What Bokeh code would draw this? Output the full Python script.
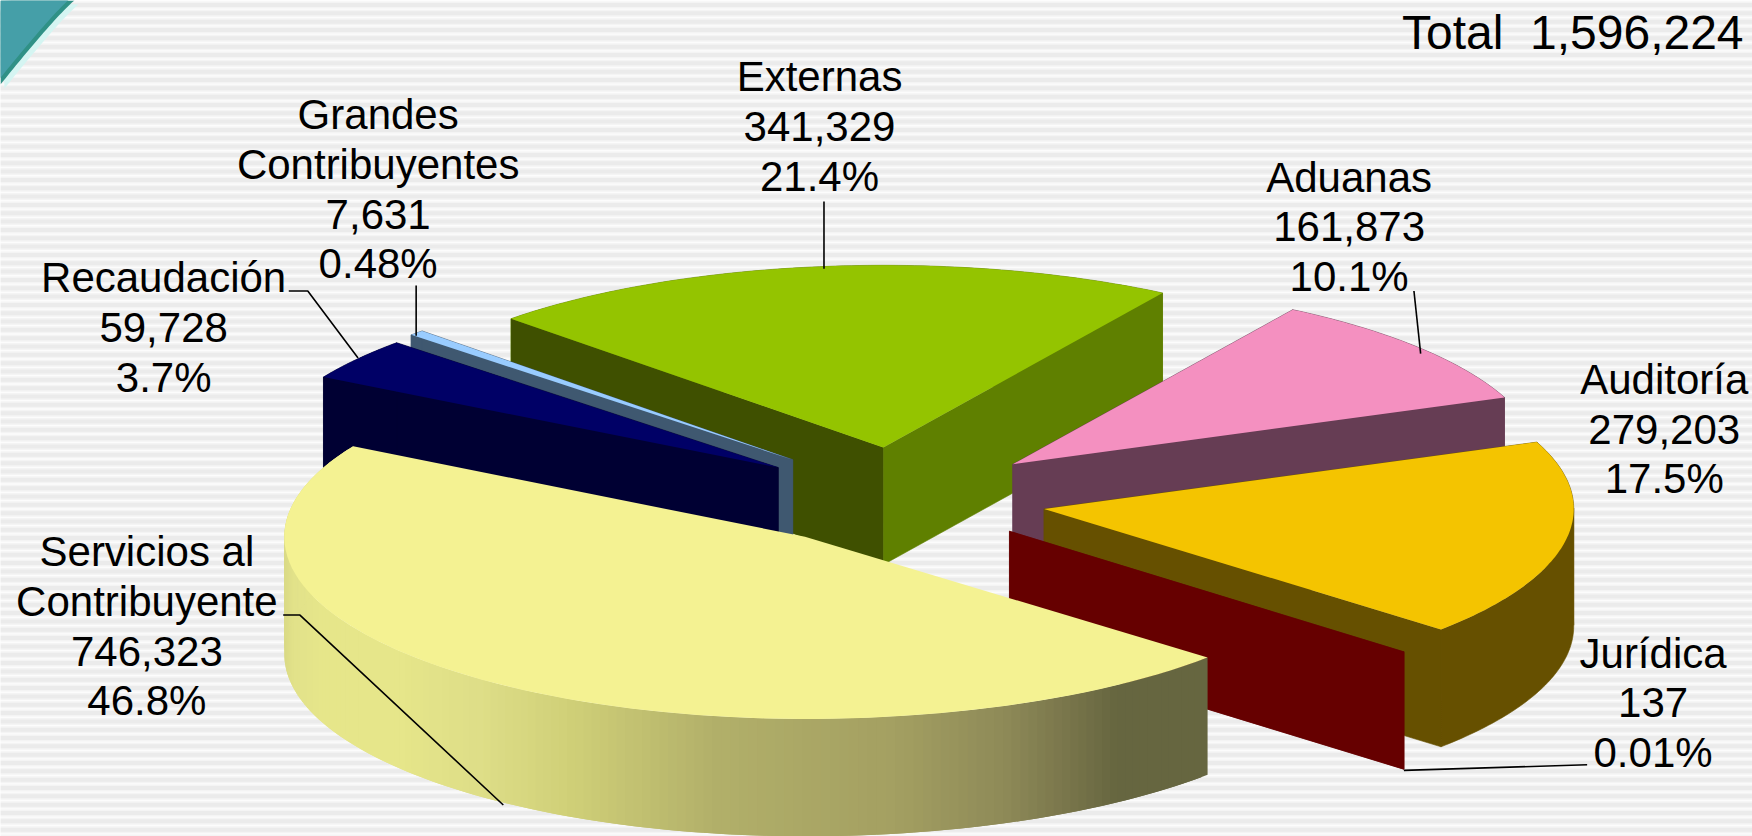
import numpy as np
from bokeh.plotting import figure
from bokeh.models import Range1d
from bokeh.core.properties import value
from bokeh.embed import file_html
from bokeh.resources import INLINE

# ---- data ----
categories = ["Externas", "Aduanas", "Auditoría", "Jurídica",
              "Servicios al Contribuyente", "Recaudación", "Grandes Contribuyentes"]
values = [341329, 161873, 279203, 137, 746323, 59728, 7631]
percents = ["21.4%", "10.1%", "17.5%", "0.01%", "46.8%", "3.7%", "0.48%"]
total_label = "Total\u00a0\u00a01,596,224"
total = 1596224

# ---- layout and style (in units of the 1568-wide view) ----
S = 1752 / 1568
START = 135.0
RY, DEPTH = 163.0, 105.0
rx_left = [471, 473, 474, 471, 466, 469, 469]
rx_right = [472, 473, 474, 471, 481, 469, 469]
apex = [(790, 400), (906, 415), (934, 455), (903, 475), (720, 480), (696, 418), (709, 411)]
top_col = ["#94C400", "#F490C0", "#F4C400", "#C00000", "#F4F292", "#000066", "#99CCFF"]
wall_col = ["#3F5000", "#663D54", "#665000", "#660000", "#666640", "#000033", "#3F5870"]
label_x = [733, 1207, 1489, 1479, 131, 146, 338]
label_y = [68, 158, 339, 584, 493, 248, 102]
wrap = {"Servicios al Contribuyente": ["Servicios al", "Contribuyente"],
        "Grandes Contribuyentes": ["Grandes", "Contribuyentes"]}
LINE = 44.6
leaders = [[(737, 180), (737, 240)],
           [(1265, 260), (1271, 316)],
           [(1420, 684), (1256, 689)],
           [(253, 550), (268, 550), (450, 720)],
           [(258, 260), (275, 260), (320, 320)],
           [(372, 255), (372, 300)]]
grad_x = [253, 262, 285, 360, 430, 510, 640, 800, 900, 960, 1000, 1080]
grad_r = [0xD9, 0xE2, 0xE6, 0xE6, 0xDE, 0xD0, 0xB2, 0xA4, 0x8E, 0x77, 0x66, 0x66]
grad_g = [0xD9, 0xE2, 0xE6, 0xE6, 0xDE, 0xD0, 0xB0, 0xA0, 0x8A, 0x74, 0x66, 0x66]
grad_b = [0x84, 0x8A, 0x8A, 0x8A, 0x88, 0x78, 0x6A, 0x62, 0x58, 0x4A, 0x40, 0x40]

p = figure(width=1752, height=836, output_backend="svg", toolbar_location=None,
           x_range=Range1d(0, 1752), y_range=Range1d(836, 0), min_border=0,
           background_fill_color="#FCFCFC", border_fill_color="#FCFCFC", outline_line_color=None)
p.axis.visible = False
p.grid.visible = False


def sx(v):
    return np.asarray(v, dtype=float) * S


# striped backdrop
ys = np.arange(2.0, 840.0, 8.33)
p.quad(left=0, right=1752, bottom=ys + 6, top=ys - 1, fill_color="#F4F4F4", line_color=None)
p.quad(left=0, right=1752, bottom=ys + 4.5, top=ys + 0.5, fill_color="#EBEBEB", line_color=None)

# teal page corner
ct = np.linspace(0, 1, 30)
cx_ = 74 * ct
cy_ = 84 * (1 - ct) ** 1.1
p.patch(np.r_[0, cx_ + 4], np.r_[0, cy_ + 4], fill_color="#D5F5F2", line_color=None)
p.patch(np.r_[0, cx_], np.r_[0, cy_], fill_color="#2F9186", line_color=None)
p.patch(np.r_[0, cx_ - 3], np.r_[0, cy_ - 3], fill_color="#459FA8", line_color=None)

# slice angles come from the values
sweeps = np.array(values) / total * 360.0
starts = START - np.r_[0, np.cumsum(sweeps)[:-1]]


def outline(i, n=90):
    th = np.radians(np.linspace(starts[i], starts[i] - sweeps[i], n))
    ax, ay = apex[i]
    c = np.cos(th)
    return ax + np.where(c > 0, rx_right[i], rx_left[i]) * c, ay - RY * np.sin(th)


def slice_top(i):
    x, y = outline(i)
    p.patch(sx(np.r_[apex[i][0], x]), sx(np.r_[apex[i][1], y]),
            fill_color=top_col[i], line_color=None)


def slice_walls(i, colour=None):
    x, y = outline(i)
    ax, ay = apex[i]
    c = colour or wall_col[i]
    # outer rim, split where the arc turns back in x so that each piece is a simple polygon
    cuts = sorted({0, int(np.argmax(x)), int(np.argmin(x)), len(x) - 1})
    for a, b in zip(cuts[:-1], cuts[1:]):
        xx, yy = x[a:b + 1], y[a:b + 1]
        p.patch(sx(np.r_[xx, xx[::-1]]), sx(np.r_[yy, (yy + DEPTH)[::-1]]),
                fill_color=c, line_color=c, line_width=0.6)
    # the two cut faces
    p.patch(sx([ax, x[0], x[0], ax]), sx([ay, y[0], y[0] + DEPTH, ay + DEPTH]),
            fill_color=c, line_color=c, line_width=0.6)
    p.patch(sx([ax, x[-1], x[-1], ax]), sx([ay, y[-1], y[-1] + DEPTH, ay + DEPTH]),
            fill_color=c, line_color=c, line_width=0.6)


# Externas has a darker left cut face and a lighter right cut face
x0, y0 = outline(0)
slice_walls(0, "#5F8000")
ax0, ay0 = apex[0]
p.patch(sx([ax0, x0[0], x0[0], ax0]), sx([ay0, y0[0], y0[0] + DEPTH, ay0 + DEPTH]),
        fill_color=wall_col[0], line_color=None)
slice_top(0)
for i in (6, 5):
    slice_walls(i)
    slice_top(i)
for i in (1, 2):
    slice_walls(i)
    slice_top(i)
slice_walls(3)
# Servicios: outer wall shaded strip by strip, each strip overlapping the next
i = 4
xa, ya = outline(i, 170)
sx_, sy_, cols = [], [], []
for k in range(len(xa) - 2):
    sx_.append(sx([xa[k], xa[k + 2], xa[k + 2], xa[k]]))
    sy_.append(sx([ya[k], ya[k + 2], ya[k + 2] + DEPTH, ya[k] + DEPTH]))
    m = 0.5 * (xa[k] + xa[k + 1])
    cols.append("#%02X%02X%02X" % (int(np.interp(m, grad_x, grad_r)),
                                   int(np.interp(m, grad_x, grad_g)),
                                   int(np.interp(m, grad_x, grad_b))))
p.patches(sx_, sy_, fill_color=cols, line_color=None)
slice_top(i)

# leader lines
for seg in leaders:
    a = np.array(seg, dtype=float)
    p.line(sx(a[:, 0]), sx(a[:, 1]), line_color="#000000", line_width=1.6)

# labels
tx, ty, tt = [], [], []
for k, name in enumerate(categories):
    lines = wrap.get(name, [name]) + [f"{values[k]:,}", percents[k]]
    for j, ln in enumerate(lines):
        tx.append(label_x[k] * S)
        ty.append((label_y[k] + j * LINE) * S)
        tt.append(ln)
p.text(tx, ty, text=tt, text_align="center", text_baseline="alphabetic",
       text_font=value("Liberation Sans"), text_font_size="42px", text_color="#000000")
p.text([1560 * S], [29 * S], text=[total_label], text_align="right", text_baseline="alphabetic",
       text_font=value("Liberation Sans"), text_font_size="48px", text_color="#000000")

open("out.html", "w").write(file_html(p, INLINE))
